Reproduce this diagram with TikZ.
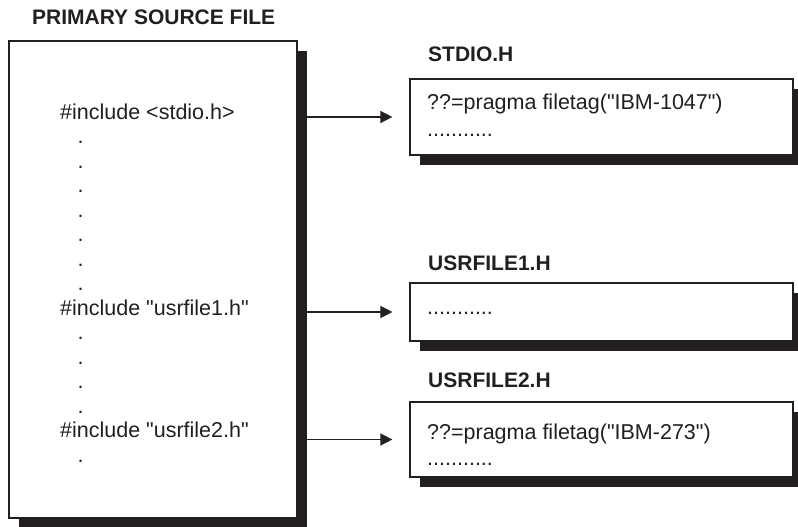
\documentclass[tikz,border=0pt]{standalone}
\usepackage{fontspec}
\setmainfont{Liberation Sans}
\usepackage{xcolor}
\usetikzlibrary{arrows.meta,shadows,positioning}
\definecolor{ink}{RGB}{35,31,32}

\tikzset{
  filebox/.style={draw=ink, line width=1.2pt, fill=white, inner sep=0pt,
    drop shadow={shadow xshift=10pt, shadow yshift=-10pt, fill=ink, opacity=1}},
  filename/.style={anchor=base west, inner sep=0pt, text=ink,
    font=\bfseries\fontsize{21}{24}\selectfont},
  code/.style={anchor=base west, inner sep=0pt, text=ink,
    font=\fontsize{21.5}{24.5}\selectfont},
  incl/.style={-{Triangle[length=12pt,width=12pt]}, line width=1.5pt, draw=ink, shorten >=17pt}
}
\newcommand{\qq}{\textquotedbl}

\begin{document}
\begin{tikzpicture}[x=1pt, y=-1pt]
				\useasboundingbox (0,0) rectangle (798,527);
				
				% primary source file
				\node[filename] (srcname) at (32,25) {PRIMARY SOURCE FILE};
				\node[filebox, minimum width=288pt, minimum height=477pt] (src) at (153,279.5) {};
				
				\node[code] (incstdio) at (60,119) {\#include <stdio.h>};
				\node[code] (incusr1) at (60,315) {\#include \qq usrfile1.h\qq};
				\node[code] (incusr2) at (60,437.5) {\#include \qq usrfile2.h\qq};
				
				\foreach \i in {1,...,14} {
					\pgfmathsetmacro{\yLine}{119+24.5*\i}
					\ifnum\i=8 \else \ifnum\i=13 \else
					\node[code] (dot\i) at (77.5,\yLine) {.};
					\fi\fi
				}
				
				% header files
				\node[filename] (stdioname) at (428,62) {STDIO.H};
				\node[filebox, minimum width=383pt, minimum height=76pt] (stdio) at (601.5,117) {};
				\node[code] (stdiotag) at (427,109) {??=pragma filetag(\qq IBM-1047\qq)};
				\node[code] (stdiorest) at (427,136) {...........};
				
				\node[filename] (usr1name) at (428,270) {USRFILE1.H};
				\node[filebox, minimum width=383pt, minimum height=58pt] (usr1) at (601.5,312) {};
				\node[code] (usr1rest) at (427,314) {...........};
				
				\node[filename] (usr2name) at (428,387) {USRFILE2.H};
				\node[filebox, minimum width=383pt, minimum height=75pt] (usr2) at (601.5,439.5) {};
				\node[code] (usr2tag) at (427,439) {??=pragma filetag(\qq IBM-273\qq)};
				\node[code] (usr2rest) at (427,465) {...........};
				
				% includes
				\draw[incl] (src.east |- stdio.west) -- (stdio.west);
				\draw[incl] (src.east |- usr1.west) -- (usr1.west);
				\draw[incl] (src.east |- usr2.west) -- (usr2.west);
\end{tikzpicture}
\end{document}
